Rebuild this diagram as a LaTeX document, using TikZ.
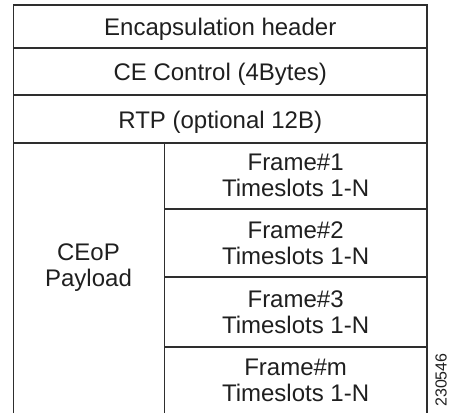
\documentclass[tikz,border=0pt]{standalone}
\usepackage{fontspec}
\setmainfont{Liberation Sans}
\begin{document}
\begin{tikzpicture}[x=1pt,y=-1pt,
  rule/.style={draw=black!82,line width=1.3pt},
  lbl/.style={font=\fontsize{24}{26}\selectfont,text=black!88,align=center,inner sep=0pt},
  tag/.style={font=\fontsize{16}{18}\selectfont,text=black!88,inner sep=0pt,rotate=90}]
\useasboundingbox (0,0) rectangle (449,413);
% frame lines
\draw[rule] (13.5,413) -- (13.5,5) -- (427,5) -- (427,413);
\draw[rule] (13.5,48) -- (427,48);
\draw[rule] (13.5,95) -- (427,95);
\draw[rule] (13.5,143) -- (427,143);
\draw[rule] (164.3,143) -- (164.3,413);
\draw[rule] (164.3,209) -- (427,209);
\draw[rule] (164.3,277) -- (427,277);
\draw[rule] (164.3,347) -- (427,347);
% labels
\node[lbl,anchor=base] (enc) at (220.25,35) {Encapsulation header};
\node[lbl,anchor=base] (ce) at (220.25,80.5) {CE Control (4Bytes)};
\node[lbl,anchor=base] (rtp) at (220.25,128) {RTP (optional 12B)};
\node[lbl] (pay) at (88.5,268) {CEoP\\Payload};
\node[lbl] (f1) at (295.6,175.5) {Frame\#1\\Timeslots 1-N};
\node[lbl] (f2) at (295.6,243.5) {Frame\#2\\Timeslots 1-N};
\node[lbl] (f3) at (295.6,312.5) {Frame\#3\\Timeslots 1-N};
\node[lbl] (fm) at (295.6,380.5) {Frame\#m\\Timeslots 1-N};
\node[tag] (id) at (441,380) {230546};
\end{tikzpicture}
\end{document}
